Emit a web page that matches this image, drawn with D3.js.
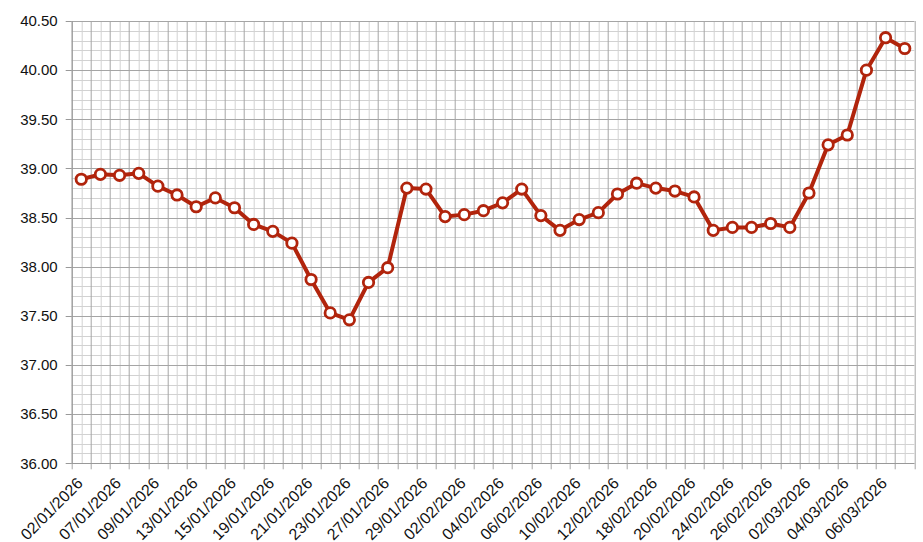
<!DOCTYPE html>
<html>
<head>
<meta charset="utf-8">
<script src="https://cdn.jsdelivr.net/npm/d3@7"></script>
<style>
body { margin: 0; background: #fff; }
</style>
</head>
<body>
<div id="mainDiv"></div>
<script>
'use strict';

var dates = ["02/01/2026", "06/01/2026", "07/01/2026", "08/01/2026", "09/01/2026", "12/01/2026",
    "13/01/2026", "14/01/2026", "15/01/2026", "16/01/2026", "19/01/2026", "20/01/2026",
    "21/01/2026", "22/01/2026", "23/01/2026", "26/01/2026", "27/01/2026", "28/01/2026",
    "29/01/2026", "30/01/2026", "02/02/2026", "03/02/2026", "04/02/2026", "05/02/2026",
    "06/02/2026", "09/02/2026", "10/02/2026", "11/02/2026", "12/02/2026", "13/02/2026",
    "18/02/2026", "19/02/2026", "20/02/2026", "23/02/2026", "24/02/2026", "25/02/2026",
    "26/02/2026", "27/02/2026", "02/03/2026", "03/03/2026", "04/03/2026", "05/03/2026",
    "06/03/2026", "09/03/2026"];

var values = [38.89, 38.94, 38.93, 38.95, 38.82, 38.73, 38.61, 38.70, 38.60, 38.43, 38.36,
    38.24, 37.87, 37.53, 37.46, 37.84, 37.99, 38.80, 38.79, 38.51, 38.53, 38.57, 38.65,
    38.79, 38.52, 38.37, 38.48, 38.55, 38.74, 38.85, 38.80, 38.77, 38.71, 38.37, 38.40,
    38.40, 38.44, 38.40, 38.75, 39.24, 39.34, 40.00, 40.33, 40.22];

var yTicks = [36.00, 36.50, 37.00, 37.50, 38.00, 38.50, 39.00, 39.50, 40.00, 40.50];

var myApp = {};

myApp.margin = { top: 21, right: 8.7, bottom: 78.7, left: 71.7 };
myApp.width = 923;
myApp.height = 542;

myApp.appendSvg = function(element, w, h)
{
    var node = d3.select(element).append("svg")
        .attr("width", w)
        .attr("height", h)
        .style("display", "block");
    return node;
}

myApp.run = function()
{
    var m = myApp.margin;
    var svg = myApp.appendSvg("#mainDiv", myApp.width, myApp.height);
    var g = svg.append("g").attr("transform", "translate(" + m.left + "," + m.top + ")");
    var w = myApp.width - m.left - m.right;
    var h = myApp.height - m.top - m.bottom;

    var x = d3.scaleBand().domain(dates).range([0, w]).padding(0);
    var y = d3.scaleLinear().domain([36, 40.5]).range([h, 0]);
    var bw = x.bandwidth();

    // minor grid
    g.append("g").selectAll("line.hmin")
        .data(y.ticks(45))
        .enter().append("line")
            .attr("x1", 0).attr("x2", w)
            .attr("y1", function(d) { return Math.round(y(d)) + 0.5; })
            .attr("y2", function(d) { return Math.round(y(d)) + 0.5; })
            .attr("stroke", "#d2d2d2");
    g.append("g").selectAll("line.vmin")
        .data(dates)
        .enter().append("line")
            .attr("y1", 0).attr("y2", h)
            .attr("x1", function(d) { return Math.round(x(d) + bw / 2) + 0.5; })
            .attr("x2", function(d) { return Math.round(x(d) + bw / 2) + 0.5; })
            .attr("stroke", "#d2d2d2");

    // major grid
    var bounds = dates.map(function(d) { return x(d); }).concat([w]);
    g.append("g").selectAll("line")
        .data(yTicks)
        .enter().append("line")
            .attr("x1", 0).attr("x2", w)
            .attr("y1", function(d) { return Math.round(y(d)) + 0.5; })
            .attr("y2", function(d) { return Math.round(y(d)) + 0.5; })
            .attr("stroke", "#a5a5a5");
    g.append("g").selectAll("line")
        .data(bounds)
        .enter().append("line")
            .attr("y1", 0).attr("y2", h + 6)
            .attr("x1", function(d) { return Math.round(d) + 0.5; })
            .attr("x2", function(d) { return Math.round(d) + 0.5; })
            .attr("stroke", "#a5a5a5");

    // axes
    g.append("line")
        .attr("x1", 0.5).attr("x2", 0.5).attr("y1", 0).attr("y2", h)
        .attr("stroke", "#999");
    g.append("line")
        .attr("x1", 0).attr("x2", w).attr("y1", Math.round(h) + 0.5).attr("y2", Math.round(h) + 0.5)
        .attr("stroke", "#999");

    g.append("g").selectAll("line")
        .data(yTicks)
        .enter().append("line")
            .attr("x1", -6).attr("x2", 0)
            .attr("y1", function(d) { return Math.round(y(d)) + 0.5; })
            .attr("y2", function(d) { return Math.round(y(d)) + 0.5; })
            .attr("stroke", "#999");

    g.append("g").selectAll("text")
        .data(yTicks)
        .enter().append("text")
            .text(function(d) { return d3.format(".2f")(d); })
            .attr("x", -14)
            .attr("y", function(d) { return y(d); })
            .attr("dy", "0.35em")
            .attr("text-anchor", "end")
            .attr("font-family", "Liberation Sans, Arial, sans-serif")
            .attr("font-size", "15px")
            .attr("fill", "#111");

    g.append("g").selectAll("text")
        .data(dates.filter(function(d, i) { return i % 2 === 0; }))
        .enter().append("text")
            .text(function(d) { return d; })
            .attr("transform", function(d) {
                return "translate(" + (x(d) + bw / 2 + 2.5) + "," + (h + 21) + ") rotate(-45)";
            })
            .attr("text-anchor", "end")
            .attr("font-family", "Liberation Sans, Arial, sans-serif")
            .attr("font-size", "16px")
            .attr("fill", "#111");

    // series
    var line = d3.line()
        .x(function(d, i) { return x(dates[i]) + bw / 2; })
        .y(function(d) { return y(d); });

    g.append("path")
        .datum(values)
        .attr("d", line)
        .attr("fill", "none")
        .attr("stroke", "#b1240c")
        .attr("stroke-width", 4)
        .attr("stroke-linejoin", "round");

    g.append("g").selectAll("circle")
        .data(values)
        .enter().append("circle")
            .attr("cx", function(d, i) { return x(dates[i]) + bw / 2; })
            .attr("cy", function(d) { return y(d); })
            .attr("r", 5.2)
            .attr("fill", "#fff")
            .attr("stroke", "#b1240c")
            .attr("stroke-width", 2.8);
}

window.onload = myApp.run;
</script>
</body>
</html>
